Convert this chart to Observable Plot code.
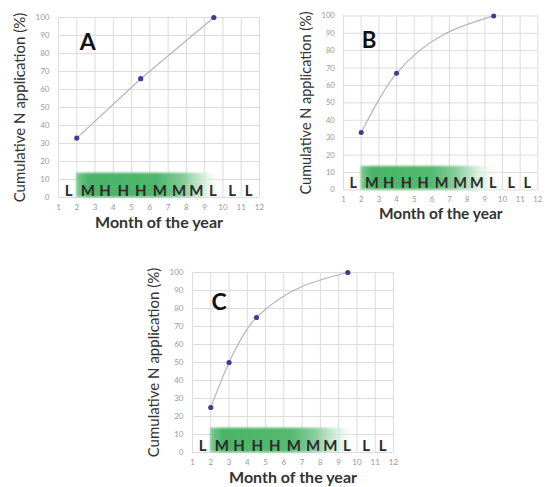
<!DOCTYPE html>
<html><head><meta charset="utf-8">
<script src="https://cdn.jsdelivr.net/npm/d3@7"></script>
<script src="https://cdn.jsdelivr.net/npm/@observablehq/plot@0.6"></script>
<style>
html,body{margin:0;padding:0;background:#fff;overflow:hidden;width:548px;height:487px;position:relative;}
.panel{position:absolute;}
</style></head><body>
<div id="A" class="panel" style="left:0px;top:0px"></div>
<div id="B" class="panel" style="left:287px;top:-1px"></div>
<div id="C" class="panel" style="left:134px;top:255px"></div>
<script>
// ---- data ----
const monthTicks = [1,2,3,4,5,6,7,8,9,10,11,12];
const yTicks = [0,10,20,30,40,50,60,70,80,90,100];
const seasonLetters = ["L","M","H","H","H","M","M","M","L","L","L"];
const letterMonth = [1.55,2.6,3.55,4.55,5.5,6.55,7.6,8.55,9.45,10.5,11.4];
const aMonth = [2, 5.5, 9.5];
const aCum = [33, 66, 100];
const bMonth = [2, 4, 9.5];
const bCum = [33, 67, 100];
const cMonth = [2, 3, 4.5, 9.5];
const cCum = [25, 50, 75, 100];
const bandStart = 2, bandEnd = 10, bandTop = 13.5;
const yTitle = "Cumulative N application (%)";
const xTitle = "Month of the year";

const letters = seasonLetters.map((t,i)=>({t, x: letterMonth[i]}));

function panel(id, xs, ys, curve, tagPos, fadeStops) {
  const pts = xs.map((x,i)=>({x, y: ys[i]}));
  const svg = Plot.plot({
    width: 270, height: 235,
    marginLeft: 58, marginRight: 11, marginTop: 17, marginBottom: 38,
    style: {fontFamily: "Lato, 'Open Sans', sans-serif", background: "transparent", overflow: "visible"},
    x: {domain: [1,12]},
    y: {domain: [0,100]},
    marks: [
      Plot.gridX(monthTicks, {stroke: "#dcdcdc", strokeOpacity: 1}),
      Plot.gridY(yTicks, {stroke: "#dcdcdc", strokeOpacity: 1}),
      Plot.rect([{x1: bandStart, x2: bandEnd, y1: 0, y2: bandTop}], {x1: "x1", x2: "x2", y1: "y1", y2: "y2", fill: `url(#g${id})`}),
      Plot.axisX(monthTicks, {tickSize: 0, tickPadding: 7, fontSize: 8, color: "#9a9a9a", label: null}),
      Plot.axisY(yTicks, {tickSize: 0, tickPadding: 9, fontSize: 8, color: "#9a9a9a", label: null}),
      Plot.line(pts, {x: "x", y: "y", curve, stroke: "#b3b3cc", strokeWidth: 1.2}),
      Plot.dot(pts, {x: "x", y: "y", r: 2.6, fill: "#3d3d94", stroke: "none"}),
      Plot.text(letters, {x: "x", y: 3.6, text: "t", fontSize: 15, fontWeight: 700, fill: "#2b2b2b"}),
      Plot.text([id], {x: tagPos[0], y: tagPos[1], text: d=>d, fontSize: 23, fontWeight: 700, fill: "#111"}),
      Plot.text([yTitle], {frameAnchor: "left", textAnchor: "middle", lineAnchor: "middle", rotate: -90, dx: -38, text: d=>d, fontSize: 15, fill: "#333"}),
      Plot.text([xTitle], {frameAnchor: "bottom", textAnchor: "middle", lineAnchor: "middle", dy: 25, text: d=>d, fontSize: 16, fontWeight: 700, fill: "#333"})
    ]
  });
  const s = d3.select(svg);
  const defs = s.insert("defs", ":first-child");
  const g = defs.append("linearGradient").attr("id", `g${id}`).attr("x1", 0).attr("x2", 1).attr("y1", 0).attr("y2", 0);
  fadeStops.forEach(([o,c,a]) => g.append("stop").attr("offset", o).attr("stop-color", c).attr("stop-opacity", a));
  defs.append("filter").attr("id", `f${id}`).attr("x", "-10%").attr("y", "-30%").attr("width", "120%").attr("height", "160%")
    .append("feGaussianBlur").attr("stdDeviation", 1.2);
  const band = svg.querySelector(`[fill="url(#g${id})"]`);
  if (band) band.setAttribute("filter", `url(#f${id})`);
  document.getElementById(id).appendChild(svg);
}

const stopsA = [[0,"#6cc586",0.9],[0.08,"#4ab466",1],[0.55,"#50b76c",1],[0.72,"#80ca95",1],[0.86,"#c8e9d1",0.9],[1,"#ffffff",0]];
const stopsB = [[0,"#6cc586",0.9],[0.08,"#4ab466",1],[0.5,"#55b970",1],[0.68,"#8ace9e",1],[0.82,"#cdebd5",0.9],[1,"#ffffff",0]];
const stopsC = [[0,"#6cc586",0.9],[0.08,"#4ab466",1],[0.55,"#55b970",1],[0.72,"#8ace9e",1],[0.88,"#d3eedb",0.8],[1,"#ffffff",0]];

panel("A", aMonth, aCum, "linear", [2.6, 86], stopsA);
panel("B", bMonth, bCum, "monotone-x", [2.45, 85.5], stopsB);
panel("C", cMonth, cCum, "monotone-x", [2.45, 83], stopsC);
</script>
</body></html>
